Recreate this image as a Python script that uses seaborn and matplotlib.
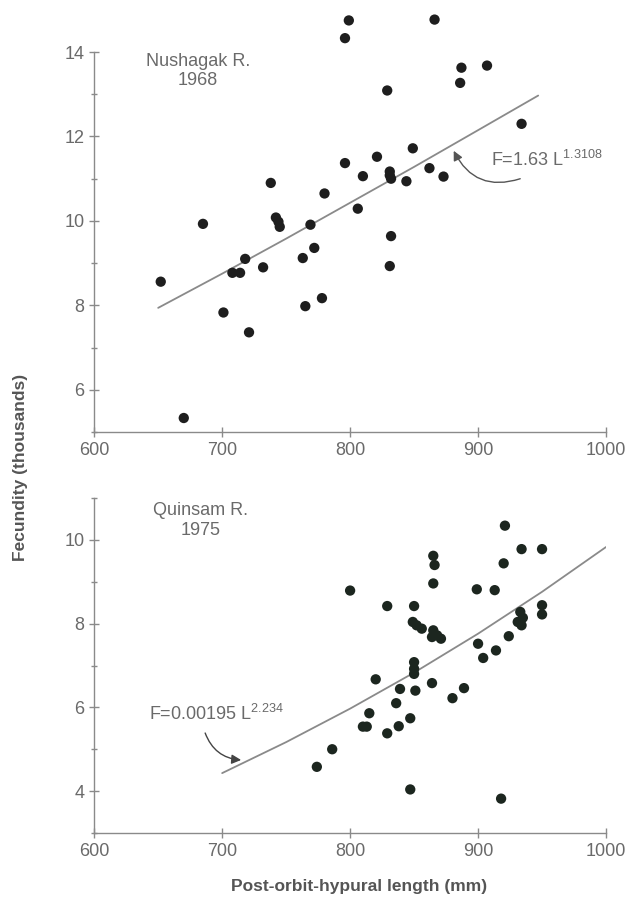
import matplotlib
matplotlib.use("Agg")
import matplotlib.pyplot as plt
from matplotlib.ticker import MultipleLocator
import seaborn as sns
import pandas as pd

# === DATA ===
nush_len = [652, 670, 685, 701, 708, 714, 718, 721, 732, 738,
            742, 744, 745, 763, 765, 769, 772, 778, 780, 796,
            796, 799, 806, 810, 821, 829, 831, 832, 832, 831,
            844, 849, 862, 866, 873, 886, 887, 907, 934, 831]
nush_fec = [8.56, 5.33, 9.93, 7.83, 8.77, 8.77, 9.10, 7.36, 8.90, 10.90,
            10.08, 9.98, 9.86, 9.12, 7.98, 9.91, 9.36, 8.17, 10.65, 11.37,
            14.33, 14.75, 10.29, 11.06, 11.52, 13.09, 11.17, 11.0, 9.64, 8.93,
            10.94, 11.72, 11.25, 14.77, 11.05, 13.27, 13.63, 13.68, 12.30, 11.08]

quin_len = [774, 786, 800, 810, 813, 815, 820, 829, 829, 836,
            838, 839, 847, 847, 850, 849, 852, 856, 850, 850,
            850, 851, 864, 865, 865, 866, 865, 864, 868, 871,
            880, 889, 899, 900, 904, 913, 914, 918, 920, 921,
            924, 934, 931, 933, 935, 934, 950, 950, 950]
quin_fec = [4.58, 5.0, 8.79, 5.54, 5.54, 5.86, 6.67, 8.42, 5.38, 6.10,
            5.55, 6.44, 4.04, 5.74, 8.42, 8.04, 7.96, 7.88, 7.08, 6.92,
            6.80, 6.40, 6.58, 8.96, 9.62, 9.40, 7.84, 7.68, 7.72, 7.64,
            6.22, 6.46, 8.82, 7.52, 7.18, 8.80, 7.36, 3.82, 9.44, 10.34,
            7.70, 9.78, 8.04, 8.28, 8.14, 7.96, 9.78, 8.44, 8.22]

# fitted curves as drawn
nush_fit_len = [650, 700, 750, 800, 850, 900, 947]
nush_fit_fec = [7.94, 8.75, 9.58, 10.43, 11.28, 12.15, 12.97]
quin_fit_len = [700, 750, 800, 850, 900, 950, 1000]
quin_fit_fec = [4.43, 5.17, 5.97, 6.83, 7.76, 8.76, 9.83]

sns.set_style("ticks")
plt.rcParams['font.family'] = ['Liberation Sans', 'DejaVu Sans']
plt.rcParams['mathtext.fontset'] = 'custom'
plt.rcParams['mathtext.rm'] = 'Liberation Sans'

GRAY = '#8a8a8a'
TXT = '#6a6a6a'

fig = plt.figure(figsize=(6.28, 8.98), dpi=100)
ax1 = fig.add_axes([0.150, 0.519, 0.815, 0.470])
ax2 = fig.add_axes([0.150, 0.0724, 0.815, 0.373])


def style_axis(ax, ylo, yhi, ytop):
    ax.set_xlim(600, 1000)
    ax.set_ylim(ylo, yhi)
    ax.xaxis.set_major_locator(MultipleLocator(100))
    ax.set_yticks([t for t in range(ylo + 1, ytop + 1) if t % 2 == 0])
    ax.set_yticks([t for t in range(ylo, ytop + 1) if t % 2 == 1], minor=True)
    for s in ['top', 'right']:
        ax.spines[s].set_visible(False)
    for s in ['left', 'bottom']:
        ax.spines[s].set_color(GRAY)
        ax.spines[s].set_linewidth(1.0)
    ax.spines['left'].set_bounds(ylo, ytop)
    ax.spines['bottom'].set_bounds(600, 1000)
    ax.tick_params(which='both', direction='inout', color=GRAY, labelcolor=TXT,
                   labelsize=13, width=1.0)
    ax.tick_params(which='major', length=7)
    ax.tick_params(which='minor', length=5)
    ax.set_xlabel('')
    ax.set_ylabel('')


# === TOP: NUSHAGAK ===
top = pd.DataFrame({'len': nush_len, 'fec': nush_fec})
sns.lineplot(x=nush_fit_len, y=nush_fit_fec, ax=ax1, color=GRAY, lw=1.3)
sns.scatterplot(data=top, x='len', y='fec', ax=ax1, color='#1e1e1e', s=55,
                edgecolor='none', clip_on=False, zorder=3)
style_axis(ax1, 5, 15, 14)
ax1.text(681, 13.55, 'Nushagak R.\n1968', ha='center', va='center',
         fontsize=13, color=TXT, linespacing=1.2)
ax1.text(910, 11.45, r'F=1.63 L$^{\mathregular{1.3108}}$', ha='left', va='center',
         fontsize=13, color=TXT)
ax1.annotate('', xy=(880, 11.72), xytext=(935, 11.02),
             arrowprops=dict(arrowstyle='-|>', color='#555555', lw=1.0,
                             connectionstyle='arc3,rad=-0.45', mutation_scale=14))

# === BOTTOM: QUINSAM ===
bot = pd.DataFrame({'len': quin_len, 'fec': quin_fec})
sns.lineplot(x=quin_fit_len, y=quin_fit_fec, ax=ax2, color=GRAY, lw=1.3)
sns.scatterplot(data=bot, x='len', y='fec', ax=ax2, color='#1c261f', s=55,
                edgecolor='none', clip_on=False, zorder=3)
style_axis(ax2, 3, 11, 11)
ax2.text(683, 10.46, 'Quinsam R.\n1975', ha='center', va='center',
         fontsize=13, color=TXT, linespacing=1.2)
ax2.text(643, 5.84, r'F=0.00195 L$^{\mathregular{2.234}}$', ha='left', va='center',
         fontsize=13, color=TXT)
ax2.annotate('', xy=(717, 4.74), xytext=(686, 5.45),
             arrowprops=dict(arrowstyle='-|>', color='#444444', lw=1.0,
                             connectionstyle='arc3,rad=0.35', mutation_scale=14))

fig.text(0.032, 0.48, 'Fecundity (thousands)', rotation=90, ha='center', va='center',
         fontsize=12.5, fontweight='bold', color='#555555')
fig.text(0.572, 0.0125, 'Post-orbit-hypural length (mm)', ha='center', va='center',
         fontsize=12.5, fontweight='bold', color='#555555')

fig.savefig('out.png', dpi=100)
